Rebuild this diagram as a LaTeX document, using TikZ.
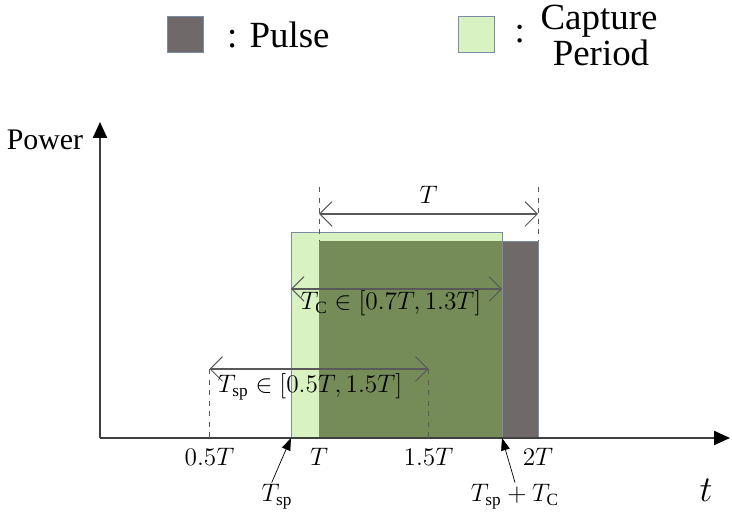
\documentclass[tikz,border=0pt]{standalone}
\usepackage{fontspec}
\setmainfont{Liberation Serif}
\usetikzlibrary{arrows.meta}

\definecolor{pulsegray}{RGB}{112,105,105}
\definecolor{capgreen}{RGB}{216,242,194}
\definecolor{overgreen}{RGB}{118,140,88}
\definecolor{edgeblue}{RGB}{125,140,165}

\begin{document}
\begin{tikzpicture}
  \tikzstyle{every node}=[font=\fontsize{14}{16}\selectfont, inner sep=1pt]
  \tikzstyle{legbox}=[draw=edgeblue, thin, minimum size=0.72cm, inner sep=0pt]
  \tikzstyle{legtext}=[font=\rmfamily\fontsize{21}{21}\selectfont]
  \tikzstyle{axis}=[-{Triangle[length=9pt,width=8pt,black]}, gray!50!black, thick]
  \tikzstyle{dim}=[{Straight Barb[length=7pt,width=14pt]}-{Straight Barb[length=7pt,width=14pt]}, gray!70!black, semithick]
  \tikzstyle{guide}=[dashed, gray!70!black, thin]
  \tikzstyle{ptr}=[-{Triangle[length=7pt,width=5pt]}, black, thin]

  \useasboundingbox (-2,-1.76) rectangle (12.64,8.76);

  % legend
  \node[legbox, fill=pulsegray] (pbox) at (1.7,8.08) {};
  \node[legtext, anchor=west] (plab) at (2.5,8.06) {: Pulse};
  \node[legtext, anchor=west] (ccolon) at (8.25,8.08) {:};
  \node[legbox, fill=capgreen] (cbox) at (7.52,8.08) {};
  \node[legtext] (clab1) at (9.98,8.34) {Capture};
  \node[legtext] (clab2) at (10.02,7.7) {Period};

  % pulse and capture period
  \fill[pulsegray, draw=edgeblue, thin] (4.38,0) rectangle (8.76,3.94);
  \fill[capgreen, draw=edgeblue, thin] (3.82,0) rectangle (8.04,4.12);
  \fill[overgreen] (4.38,0) rectangle (8.04,3.94);

  % axes
  \coordinate (o) at (0,0);
  \coordinate (xend) at (12.6,0);
  \coordinate (yend) at (0,6.32);
  \draw[axis] (o) -- (xend);
  \draw[axis] (o) -- (yend);
  \node[font=\fontsize{17}{17}\selectfont] (power) at (-1.1,5.96) {Power};
  \node[font=\fontsize{21}{21}\selectfont] (tlab) at (12.12,-1.04) {$t$};

  % ticks
  \node (half) at (2.19,-0.38) {$0.5T$};
  \node (one) at (4.38,-0.38) {$T$};
  \node (onehalf) at (6.57,-0.38) {$1.5T$};
  \node (two) at (8.76,-0.38) {$2T$};

  % period T
  \coordinate (ta) at (4.38,4.48);
  \coordinate (tb) at (8.76,4.48);
  \draw[guide] (4.38,5.02) -- (4.38,3.94);
  \draw[guide] (8.76,5.02) -- (8.76,3.94);
  \draw[dim] (ta) -- (tb);
  \node (tper) at (6.57,4.86) {$T$};

  % capture length
  \coordinate (ca) at (3.82,2.98);
  \coordinate (cb) at (8.04,2.98);
  \draw[dim] (ca) -- (cb);
  \node (tc) at (5.82,2.7) {$T_{\mathrm{C}} \in [0.7T, 1.3T]$};

  % start range
  \coordinate (sa) at (2.19,1.38);
  \coordinate (sb) at (6.57,1.38);
  \draw[guide] (sa) -- (2.19,0);
  \draw[guide] (sb) -- (6.57,0);
  \draw[dim] (sa) -- (sb);
  \node (tsprange) at (4.2,1.02) {$T_{\mathrm{sp}} \in [0.5T, 1.5T]$};

  % start and end of capture
  \coordinate (cstart) at (3.82,0);
  \coordinate (cend) at (8.04,0);
  \node (tsp) at (3.54,-1.18) {$T_{\mathrm{sp}}$};
  \node (tend) at (8.3,-1.18) {$T_{\mathrm{sp}} + T_{\mathrm{C}}$};
  \draw[ptr] ([xshift=-3pt]tsp.north) -- (cstart);
  \draw[ptr] (tend.north) -- (cend);
\end{tikzpicture}
\end{document}
